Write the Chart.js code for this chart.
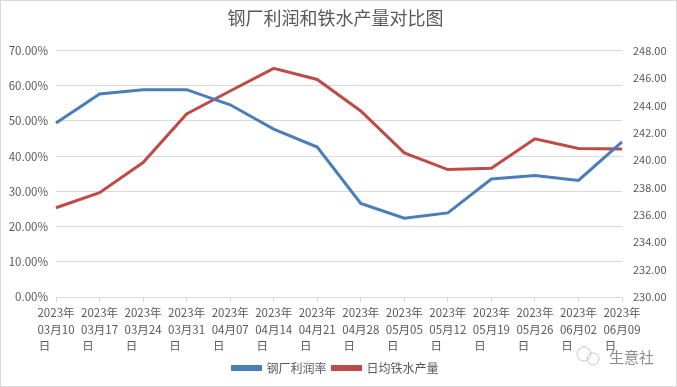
<!DOCTYPE html>
<html>
<head>
<meta charset="utf-8">
<script src="https://cdn.jsdelivr.net/npm/chart.js@4/dist/chart.umd.min.js"></script>
<style>
  html, body { margin: 0; padding: 0; background: #fff; }
  #wrap { width: 677px; height: 387px; position: relative; }
</style>
</head>
<body>
<div id="wrap"><canvas id="chart" width="677" height="387"></canvas></div>
<script>
// Data
const dates = ['03月10', '03月17', '03月24', '03月31', '04月07', '04月14', '04月21',
               '04月28', '05月05', '05月12', '05月19', '05月26', '06月02', '06月09'];
const profitRate = [49.4, 57.7, 58.9, 58.9, 54.6, 47.7, 42.6,
                    26.6, 22.4, 23.9, 33.5, 34.5, 33.1, 44.1];
const ironOutput = [236.52, 237.62, 239.82, 243.37, 245.05, 246.70, 245.89,
                    243.59, 240.53, 239.31, 239.40, 241.56, 240.85, 240.82];
const seriesNames = ['钢厂利润率', '日均铁水产量'];

const FONT = '"Noto Sans CJK SC", "Noto Sans", sans-serif';
const TEXT = '#595959';
const GRID = '#D9D9D9';

// wrapped labels, last line padded so the block reads left-aligned
const labels = dates.map(d => ['2023年', d, '日\u2003\u2003']);

// Outer frame and watermark
const decor = {
    id: 'decor',
    beforeDraw(chart) {
        const c = chart.ctx;
        c.save();
        c.fillStyle = '#fff';
        c.fillRect(0, 0, chart.width, chart.height);
        c.restore();
    },
    afterDraw(chart) {
        const c = chart.ctx;
        c.save();
        c.strokeStyle = '#D9D9D9';
        c.lineWidth = 1;
        c.strokeRect(0.5, 0.5, chart.width - 1, chart.height - 1);
        // watermark icon
        c.strokeStyle = '#C8C8C8';
        c.beginPath();
        c.arc(584, 354, 7, 0, Math.PI * 2);
        c.stroke();
        c.beginPath();
        c.arc(593, 359, 6, 0, Math.PI * 2);
        c.stroke();
        c.fillStyle = '#8C8C8C';
        c.font = '15px ' + FONT;
        c.textBaseline = 'middle';
        c.fillText('生意社', 609, 357);
        c.restore();
    }
};

new Chart(document.getElementById('chart'), {
    type: 'line',
    data: {
        labels: labels,
        datasets: [
            {
                label: seriesNames[0],
                data: profitRate,
                yAxisID: 'y',
                borderColor: '#4A7EBB',
                backgroundColor: '#4A7EBB',
                borderWidth: 3,
                pointRadius: 0,
                tension: 0
            },
            {
                label: seriesNames[1],
                data: ironOutput,
                yAxisID: 'y1',
                borderColor: '#BE4B48',
                backgroundColor: '#BE4B48',
                borderWidth: 3,
                pointRadius: 0,
                tension: 0
            }
        ]
    },
    options: {
        responsive: false,
        animation: false,
        layout: { padding: { left: 0, right: 6, top: 0, bottom: 3 } },
        plugins: {
            title: {
                display: true,
                text: '钢厂利润和铁水产量对比图',
                color: TEXT,
                font: { family: FONT, size: 18, weight: 'normal' },
                padding: { top: 7, bottom: 22 }
            },
            legend: {
                position: 'bottom',
                labels: {
                    color: TEXT,
                    font: { family: FONT, size: 12 },
                    boxWidth: 28,
                    boxHeight: 3,
                    padding: 6
                }
            },
            tooltip: { enabled: false }
        },
        scales: {
            x: {
                offset: false,
                grid: {
                    drawOnChartArea: false,
                    drawTicks: true,
                    tickLength: 5,
                    color: GRID
                },
                border: { display: true, color: GRID },
                ticks: {
                    color: TEXT,
                    font: { family: FONT, size: 11.5, lineHeight: 1.4 },
                    maxRotation: 0,
                    autoSkip: false,
                    padding: 3
                },
                afterFit(scale) { scale.height = 59; }
            },
            y: {
                position: 'left',
                min: 0,
                max: 70,
                ticks: {
                    stepSize: 10,
                    color: TEXT,
                    font: { family: FONT, size: 11.5 },
                    padding: 8,
                    callback: v => v.toFixed(2) + '%'
                },
                grid: { color: GRID, drawTicks: false },
                border: { display: false },
                afterFit(scale) { scale.width = 56; }
            },
            y1: {
                position: 'right',
                min: 230,
                max: 248,
                ticks: {
                    stepSize: 2,
                    color: TEXT,
                    font: { family: FONT, size: 11 },
                    padding: 11,
                    callback: v => v.toFixed(2)
                },
                grid: { drawOnChartArea: false, drawTicks: false },
                border: { display: false },
                afterFit(scale) { scale.width = 49; }
            }
        }
    },
    plugins: [decor]
});
</script>
</body>
</html>
